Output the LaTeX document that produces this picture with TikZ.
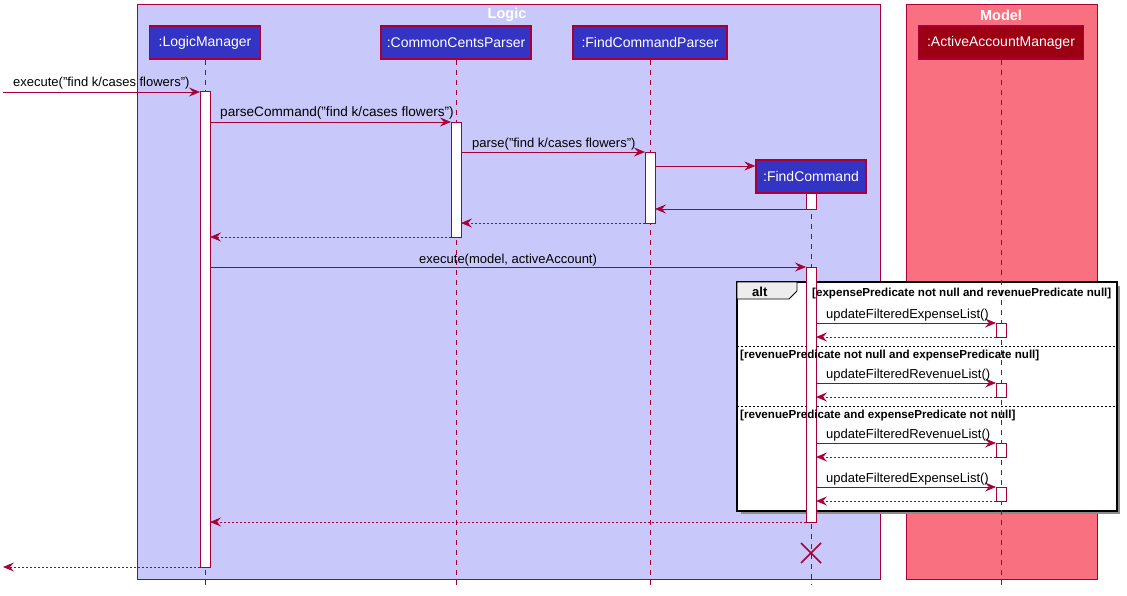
\documentclass[tikz,border=0pt]{standalone}
\usepackage{fontspec}
\setmainfont{Liberation Sans}
\usetikzlibrary{arrows.meta,calc}
\definecolor{bd}{HTML}{A80036}
\definecolor{logicT}{HTML}{C8C8FA}
\definecolor{logicC}{HTML}{3333C4}
\definecolor{modelT}{HTML}{F97181}
\definecolor{modelC}{HTML}{9D0012}
\begin{document}
\begin{tikzpicture}[x=1pt,y=-1pt,
  grp/.style={draw=bd, line width=1pt},
  grptitle/.style={text=white, font=\bfseries\fontsize{14.5}{16}\selectfont, inner sep=0pt},
  part/.style={draw=bd, line width=1.3pt, text=white, font=\fontsize{14}{16}\selectfont, minimum height=33pt, inner xsep=2pt},
  life/.style={draw=bd, dash pattern=on 5pt off 5pt, line width=0.8pt},
  act/.style={draw=bd, fill=white, line width=1pt, minimum width=10pt, inner sep=0pt, anchor=north},
  sync/.style={draw=bd, line width=0.8pt, -{Stealth[length=11pt,width=9pt,inset=4pt]}},
  ret/.style={sync, dash pattern=on 2pt off 2pt},
  lbl/.style={font=\fontsize{13}{15}\selectfont, anchor=base west, inner sep=0pt},
  guard/.style={font=\bfseries\fontsize{11.6}{13}\selectfont, anchor=base west, inner sep=0pt},
  sep/.style={draw=black, line width=0.8pt, dash pattern=on 2pt off 2pt}]
\useasboundingbox (0,0) rectangle (1127,596);

% groups
\draw[grp, fill=logicT] (137,5) rectangle (880,579);
\node[grptitle] (logicT) at (507,15) {Logic};
\draw[grp, fill=modelT] (906,5) rectangle (1097,579);
\node[grptitle] (modelT) at (1001,15) {Model};

% participants
\node[part, fill=logicC, minimum width=111pt] (lm) at (205,42.5) {:LogicManager};
\node[part, fill=logicC, minimum width=150pt] (cp) at (456,42.5) {:CommonCentsParser};
\node[part, fill=logicC, minimum width=154pt] (fp) at (650,42.5) {:FindCommandParser};
\node[part, fill=modelC, minimum width=165pt] (am) at (1001,42.5) {:ActiveAccountManager};
\node[part, fill=logicC, minimum width=110pt] (fc) at (811,176.5) {:FindCommand};

% lifeline x coordinates
\coordinate (LM) at (205,0);
\coordinate (CP) at (456,0);
\coordinate (FP) at (650,0);
\coordinate (FC) at (811,0);
\coordinate (AM) at (1001,0);
\coordinate (EXT) at (3,0);

% alt frame
\fill[black!45] (741,286) rectangle (1120,514);
\draw[line width=1.5pt, fill=white] (737,282) rectangle (1117,511);
\draw[line width=0.8pt, fill=black!7] (737,282) -- (797,282) -- (797,291) -- (789,299) -- (737,299) -- cycle;
\node[anchor=base west, inner sep=0pt, font=\bfseries\fontsize{13}{15}\selectfont] (altlbl) at (752,296) {alt};
\draw[sep] (737,346) -- (1117,346);
\draw[sep] (737,406) -- (1117,406);

% lifelines
\draw[life] (lm.south) -- ($(LM)+(0,585)$);
\draw[life] (cp.south) -- ($(CP)+(0,585)$);
\draw[life] (fp.south) -- ($(FP)+(0,585)$);
\draw[life] (am.south) -- ($(AM)+(0,585)$);
\draw[life] (fc.south) -- ($(FC)+(0,585)$);

% activations
\node[act, minimum height=476pt] (lmA) at ($(LM)+(0,91)$) {};
\node[act, minimum height=115pt] (cpA) at ($(CP)+(0,122)$) {};
\node[act, minimum height=71pt] (fpA) at ($(FP)+(0,152)$) {};
\node[act, minimum height=16pt] (fcA1) at ($(FC)+(0,193)$) {};
\node[act, minimum height=255pt] (fcA2) at ($(FC)+(0,267)$) {};
\node[act, minimum height=14pt] (amA1) at ($(AM)+(0,323)$) {};
\node[act, minimum height=14pt] (amA2) at ($(AM)+(0,383)$) {};
\node[act, minimum height=14pt] (amA3) at ($(AM)+(0,443)$) {};
\node[act, minimum height=14pt] (amA4) at ($(AM)+(0,487)$) {};

% guards (over the activation bar)
\node[guard] (g1) at (812,296) {[expensePredicate not null and revenuePredicate null]};
\node[guard] (g2) at (740,358) {[revenuePredicate not null and expensePredicate null]};
\node[guard] (g3) at (740,418) {[revenuePredicate and expensePredicate not null]};

% messages
\draw[sync] ($(EXT)+(0,92)$) -- ($(LM)+(-5,92)$);
\node[lbl] (m1) at (13,87) {execute("find k/cases flowers")};
\draw[sync] ($(LM)+(5,122)$) -- ($(CP)+(-5,122)$);
\node[lbl, font=\fontsize{13.6}{15}\selectfont] (m2) at (220,117) {parseCommand("find k/cases flowers")};
\draw[sync] ($(CP)+(5,152)$) -- ($(FP)+(-5,152)$);
\node[lbl] (m3) at (472,148) {parse("find k/cases flowers")};
\draw[sync] ($(FP)+(5,166)$) -- (fc.west |- 0,166);
\draw[sync] ($(FC)+(-5,209)$) -- ($(FP)+(5,209)$);
\draw[ret] ($(FP)+(-5,223)$) -- ($(CP)+(5,223)$);
\draw[ret] ($(CP)+(-5,237)$) -- ($(LM)+(5,237)$);
\draw[sync] ($(LM)+(5,267)$) -- ($(FC)+(-5,267)$);
\node[lbl] (m8) at (419,263) {execute(model, activeAccount)};

\draw[sync] ($(FC)+(5,323)$) -- ($(AM)+(-5,323)$);
\node[lbl] (m9) at (826,318) {updateFilteredExpenseList()};
\draw[ret] ($(AM)+(-5,337)$) -- ($(FC)+(5,337)$);
\draw[sync] ($(FC)+(5,383)$) -- ($(AM)+(-5,383)$);
\node[lbl] (m10) at (826,378) {updateFilteredRevenueList()};
\draw[ret] ($(AM)+(-5,397)$) -- ($(FC)+(5,397)$);
\draw[sync] ($(FC)+(5,443)$) -- ($(AM)+(-5,443)$);
\node[lbl] (m11) at (826,438) {updateFilteredRevenueList()};
\draw[ret] ($(AM)+(-5,457)$) -- ($(FC)+(5,457)$);
\draw[sync] ($(FC)+(5,487)$) -- ($(AM)+(-5,487)$);
\node[lbl] (m12) at (826,482) {updateFilteredExpenseList()};
\draw[ret] ($(AM)+(-5,501)$) -- ($(FC)+(5,501)$);

\draw[ret] ($(FC)+(-5,522)$) -- ($(LM)+(5,522)$);
\draw[ret] ($(LM)+(-5,567)$) -- ($(EXT)+(0,567)$);

% destroy
\coordinate (X) at ($(FC)+(0,553)$);
\draw[bd, line width=1.5pt] ($(X)+(-10,-10)$) -- ($(X)+(10,10)$);
\draw[bd, line width=1.5pt] ($(X)+(-10,10)$) -- ($(X)+(10,-10)$);
\end{tikzpicture}
\end{document}
